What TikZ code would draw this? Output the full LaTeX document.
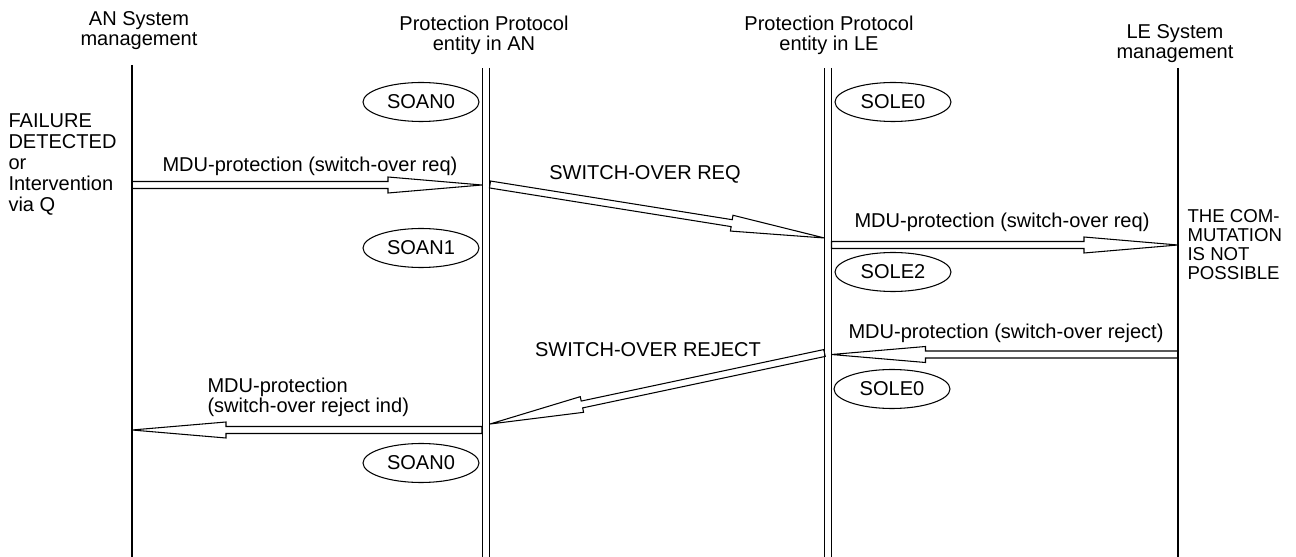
\documentclass[tikz,border=0pt]{standalone}
\usepackage{fontspec}
\setmainfont{Liberation Sans}
\usetikzlibrary{shapes.geometric,calc,positioning}

% hollow message arrow from #1 to #2
\newcommand{\msg}[2]{%
  \coordinate (hb) at ($(#2)!1.88cm!(#1)$);
  \draw[msgline] ($(#1)!0.07cm!90:(#2)$) -- ($(hb)!0.07cm!-90:(#1)$)
    -- ($(hb)!0.16cm!-90:(#1)$) -- (#2) -- ($(hb)!0.16cm!90:(#1)$)
    -- ($(hb)!0.07cm!90:(#1)$) -- ($(#1)!0.07cm!-90:(#2)$) -- cycle;}

\begin{document}
\begin{tikzpicture}
	[x=0.02cm,y=-0.02cm,line width=0.6pt,
	every node/.style={inner sep=0pt,font=\fontsize{11.4}{11.4}\selectfont},
	state/.style={shape=ellipse,draw,minimum width=2.32cm,minimum height=0.78cm},
	msgline/.style={line width=0.6pt},
	twin/.style={double,double distance=0.13cm},
	small/.style={font=\fontsize{10.6}{10.8}\selectfont}]
	\useasboundingbox (0,0) rectangle (1296,557);

	% heads of the lifelines
	\node[anchor=north,align=center] (ansys) at (139,10.7) {AN System\\management};
	\node[anchor=north,align=center] (anpp) at (484,15.4) {Protection Protocol\\entity in AN};
	\node[anchor=north,align=center] (lepp) at (829,15) {Protection Protocol\\entity in LE};
	\node[anchor=north,align=center] (lesys) at (1175,23.7) {LE System\\management};

	\draw (132,65) -- (132,557);
	\draw[twin] (486,68) -- (486,557);
	\draw[twin] (828,68) -- (828,557);
	\draw (1178,68) -- (1178,557);

	% states
	\foreach \name/\x/\y/\txt in {soan0/421/102/SOAN0,sole0/893/102/SOLE0,
		soan1/421/248/SOAN1,sole2/893/272/SOLE2,
		sole0b/892/389/SOLE0,soan0b/421/463/SOAN0}
		\node[state] (\name) at (\x,\y) {\txt};

	% message end points
	\coordinate (a1s) at (132,185);
	\coordinate (a1e) at (482,185);
	\coordinate (a2s) at (490,184.5);
	\coordinate (a2e) at (824.5,238);
	\coordinate (a3s) at (831.5,245);
	\coordinate (a3e) at (1178,245);
	\coordinate (a4s) at (1178,354.5);
	\coordinate (a4e) at (831.5,354.5);
	\coordinate (a5s) at (824.5,353);
	\coordinate (a5e) at (490,424);
	\coordinate (a6s) at (482,430);
	\coordinate (a6e) at (132,430);
	\foreach \startNode/\endNode in {a1s/a1e,a2s/a2e,a3s/a3e,a4s/a4e,a5s/a5e,a6s/a6e}
		\msg{\startNode}{\endNode};

	% labels
	\node[anchor=base] (l1) at (310,172) {MDU-protection (switch-over req)};
	\node[anchor=base] (l2) at (645,180) {SWITCH-OVER REQ};
	\node[anchor=base] (l3) at (1002,228) {MDU-protection (switch-over req)};
	\node[anchor=base] (l4) at (1006,339) {MDU-protection (switch-over reject)};
	\node[anchor=base] (l5) at (648,357) {SWITCH-OVER REJECT};
	\node[anchor=north west,align=left] (l6) at (207,377) {MDU-protection\\(switch-over reject ind)};
	\node[anchor=north west,align=left,font=\fontsize{11.4}{12}\selectfont] (fail) at (8,112.7)
		{FAILURE\\DETECTED\\or\\Intervention\\via Q};
	\node[anchor=north west,align=left,small] (com) at (1187,208.7)
		{THE COM-\\MUTATION\\IS NOT\\POSSIBLE};
\end{tikzpicture}
\end{document}
